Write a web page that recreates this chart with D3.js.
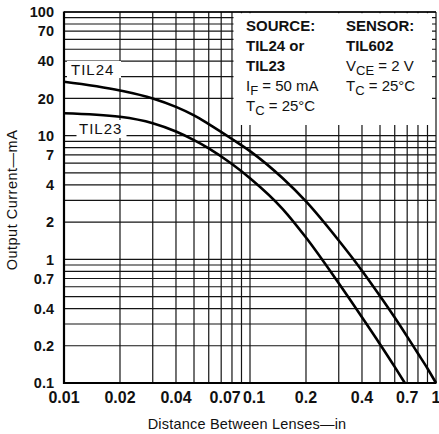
<!DOCTYPE html>
<html><head><meta charset="utf-8">
<script src="https://cdn.jsdelivr.net/npm/d3@7"></script>
<style>
html,body{margin:0;padding:0;background:#fff;}
svg{display:block;font-family:"Liberation Sans",Arial,Helvetica,sans-serif;}
</style></head>
<body>
<svg id="chart" width="439" height="434"></svg>
<script>
// ---- data ----
const distance24 = [0.01, 0.02, 0.03, 0.04, 0.05, 0.06, 0.08, 0.1, 0.15, 0.2, 0.3, 0.4, 0.5, 0.6, 0.7, 0.8, 0.9, 1.0];
const til24 = [27.3, 23.2, 20.0, 17.1, 14.6, 12.4, 9.4, 7.5, 4.52, 2.94, 1.42, 0.81, 0.505, 0.338, 0.237, 0.173, 0.131, 0.1];
const distance23 = [0.01, 0.02, 0.03, 0.04, 0.05, 0.06, 0.08, 0.1, 0.15, 0.2, 0.3, 0.4, 0.5, 0.6, 0.68];
const til23 = [15.2, 14.2, 12.6, 10.8, 9.2, 7.9, 5.9, 4.53, 2.55, 1.5, 0.64, 0.34, 0.206, 0.135, 0.1];
const xTickLabels = [0.01, 0.02, 0.04, 0.07, 0.1, 0.2, 0.4, 0.7, 1];
const yTickLabels = [100, 70, 40, 20, 10, 7, 4, 2, 1, 0.7, 0.4, 0.2, 0.1];
const xTitle = "Distance Between Lenses\u2014in";
const yTitle = "Output Current\u2014mA";

// ---- layout ----
const L = 64, R = 436, T = 12, B = 383;
const svg = d3.select("#chart");
svg.append("rect").attr("width",439).attr("height",434).attr("fill","#fff");

const x = d3.scaleLog().domain([0.01, 1]).range([L, R]);
const y = d3.scaleLog().domain([0.1, 100]).range([B, T]);

function minorTicks(lo, hi){
  const out=[];
  for(let e=Math.floor(Math.log10(lo)); e<=Math.ceil(Math.log10(hi)); e++){
    for(let k=1;k<=9;k++){ const v=+(k*Math.pow(10,e)).toPrecision(6); if(v>=lo-1e-12 && v<=hi+1e-12) out.push(v); }
  }
  return out;
}
const gx = minorTicks(0.01, 1), gy = minorTicks(0.1, 100);

const grid = svg.append("g").attr("stroke","#141414").attr("stroke-width",1.2).attr("fill","none");
gx.forEach(v => grid.append("line").attr("x1",x(v)).attr("x2",x(v)).attr("y1",T).attr("y2",B));
gy.forEach(v => grid.append("line").attr("x1",L).attr("x2",R).attr("y1",y(v)).attr("y2",y(v)));

// white boxes over grid (label areas)
svg.append("rect").attr("x",233.5).attr("y",T+1.2).attr("width",432-233.5).attr("height",125-T-1.2).attr("fill","#fff");
svg.append("rect").attr("x",67).attr("y",61).attr("width",54).attr("height",17).attr("fill","#fff");
svg.append("rect").attr("x",76.5).attr("y",120).attr("width",50).attr("height",18).attr("fill","#fff");

// axes (left & bottom heavier)
svg.append("line").attr("x1",L).attr("x2",L).attr("y1",T-0.5).attr("y2",B+1).attr("stroke","#000").attr("stroke-width",2.2);
svg.append("line").attr("x1",L-1).attr("x2",R+0.5).attr("y1",B).attr("y2",B).attr("stroke","#000").attr("stroke-width",2.2);
svg.append("line").attr("x1",L).attr("x2",R).attr("y1",T).attr("y2",T).attr("stroke","#000").attr("stroke-width",1.6);

// curves
const line = d3.line().x(d=>x(d[0])).y(d=>y(d[1])).curve(d3.curveMonotoneX);
svg.append("path").datum(distance24.map((d,i)=>[d,til24[i]])).attr("d",line)
  .attr("fill","none").attr("stroke","#000").attr("stroke-width",2.6);
svg.append("path").datum(distance23.map((d,i)=>[d,til23[i]])).attr("d",line)
  .attr("fill","none").attr("stroke","#000").attr("stroke-width",2.6);

// tick labels
const xOff = {0.07:4, 0.1:4};
svg.append("g").selectAll("text").data(xTickLabels).join("text")
  .attr("x", d => x(d) + (xOff[d]||0)).attr("y", 403)
  .attr("text-anchor","middle").attr("font-size",16).attr("font-weight","bold").attr("fill","#111")
  .text(d => d3.format("~g")(d));
svg.append("g").selectAll("text").data(yTickLabels).join("text")
  .attr("x", 54).attr("y", d => y(d)).attr("dy","0.36em")
  .attr("text-anchor","end").attr("font-size",14.5).attr("font-weight","bold").attr("fill","#111")
  .text(d => d3.format("~g")(d));

// axis titles
svg.append("text").attr("x", 247).attr("y", 429).attr("text-anchor","middle")
  .attr("font-size",14.5).attr("letter-spacing",0.2).attr("fill","#111").text(xTitle);
svg.append("text").attr("transform","translate(17,200) rotate(-90)").attr("text-anchor","middle")
  .attr("font-size",14.5).attr("letter-spacing",0.5).attr("fill","#111").text(yTitle);

// curve labels
svg.append("text").attr("x",71).attr("y",75).attr("font-size",15).attr("letter-spacing",1).attr("fill","#111").text("TIL24");
svg.append("text").attr("x",79).attr("y",134).attr("font-size",15).attr("letter-spacing",1).attr("fill","#111").text("TIL23");

// annotation
const ann = svg.append("g").attr("fill","#111");
function t(xp, yp, parts, bold){
  const el = ann.append("text").attr("x",xp).attr("y",yp).attr("font-size",15).attr("font-weight",bold?"bold":"normal");
  parts.forEach(p=>{
    const s = el.append("tspan").text(p.t);
    if(p.sub){ s.attr("font-size",13).attr("dy",4); }
    if(p.up){ s.attr("dy",-4); }
  });
}
t(246, 30.5, [{t:"SOURCE:"}], true);
t(346, 30.5, [{t:"SENSOR:"}], true);
t(246, 51, [{t:"TIL24  or"}], true);
t(346, 51, [{t:"TIL602"}], true);
t(246, 71, [{t:"TIL23"}], true);
t(346, 71, [{t:"V"},{t:"CE",sub:true},{t:" = 2 V",up:true}], false);
t(246, 91, [{t:"I"},{t:"F",sub:true},{t:" = 50 mA",up:true}], false);
t(346, 91, [{t:"T"},{t:"C",sub:true},{t:" = 25\u00b0C",up:true}], false);
t(246, 111, [{t:"T"},{t:"C",sub:true},{t:" = 25\u00b0C",up:true}], false);
</script>
</body></html>
